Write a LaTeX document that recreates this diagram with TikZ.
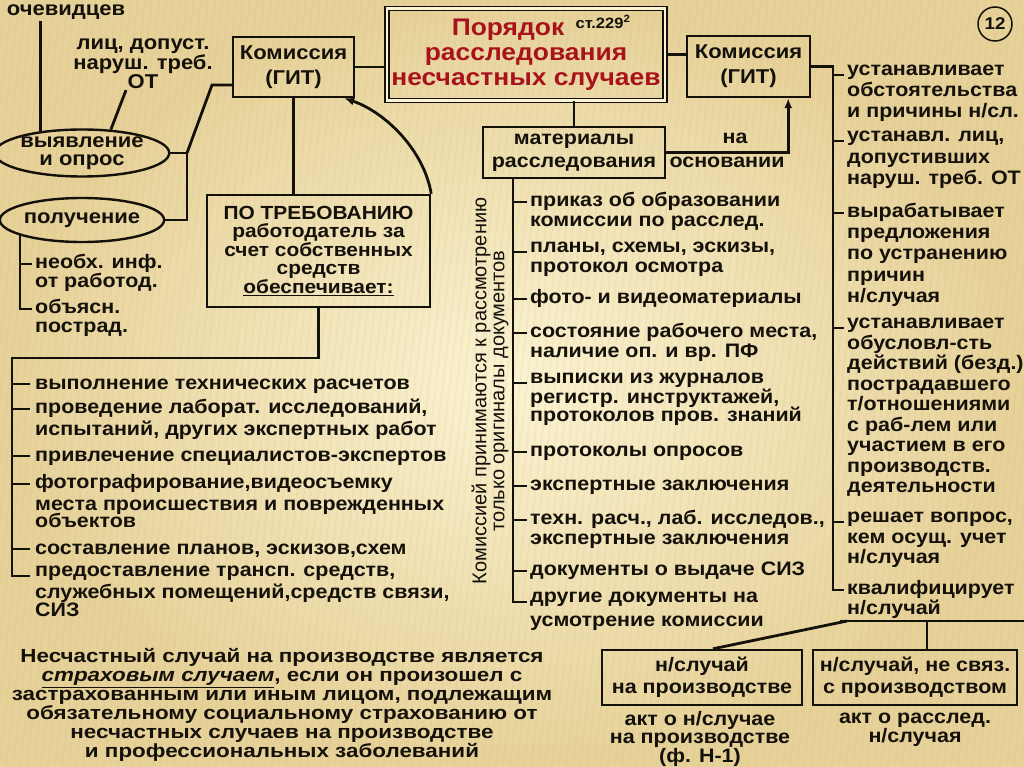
\documentclass[tikz,border=0pt]{standalone}
\usepackage{fontspec}
\setmainfont{Liberation Sans}[FakeStretch=1.1]
\newfontfamily\rotfont{Liberation Sans}
\newfontfamily\widefont{Liberation Sans}[FakeStretch=1.18]
\usetikzlibrary{arrows.meta,shapes.geometric,calc}
\definecolor{bgin}{RGB}{251,243,210}
\definecolor{bgout}{RGB}{230,209,152}
\definecolor{stripe}{RGB}{200,175,115}
\definecolor{ttlred}{RGB}{168,18,28}
\definecolor{ink}{RGB}{20,16,10}
\newcommand{\fs}[2]{\fontsize{#1}{#2}\selectfont\bfseries}
\begin{document}
\begin{tikzpicture}[x=1pt,y=-1pt,
  ln/.style={draw=ink, line width=2.8pt},
  box/.style={draw=ink, line width=2.4pt, inner sep=0pt, align=center, text=ink},
  oval/.style={draw=ink, line width=2.4pt, ellipse, inner sep=0pt, align=center, text=ink},
  itm/.style={anchor=north west, inner sep=0pt, align=left, text=ink, execute at begin node=\strut},
  lbl/.style={inner sep=1pt, align=center, text=ink},
  tip/.style={-{Latex[length=10pt,width=8pt]}}
]
\useasboundingbox (0,0) rectangle (1024,767);
\shade[inner color=bgin, outer color=bgout] (0,0) rectangle (1024,767);
\begin{scope}
\clip (0,0) rectangle (1024,767);
\foreach \i in {-120,-113,...,1040}
  \draw[stripe, opacity=0.10, line width=1.6pt] (\i,767) -- (\i+90,0);
\end{scope}

% ---------- top left ----------
\node[lbl, font=\fs{20}{22}] (ochev) at (66,12) {очевидцев};
\node[lbl, font=\fs{20}{16.5}] (lic) at (143,64) {лиц, допуст.\\наруш. треб.\\ОТ};
\node[oval, minimum width=164pt, minimum height=47pt, font=\fs{20}{18}] (vyyav) at (82,153) {выявление\\и опрос};
\node[oval, minimum width=164pt, minimum height=44pt, font=\fs{20}{20}] (poluch) at (82,220) {получение};
\node[box, minimum width=121pt, minimum height=60pt, font=\fs{20}{25}] (kom1) at (293.5,67) {Комиссия\\(ГИТ)};
\node[itm, font=\fs{19.5}{19}] (n1) at (35,254) {необх. инф.\\от работод.};
\node[itm, font=\fs{19.5}{19}] (n2) at (35,299) {объясн.\\пострад.};

\draw[ln] (vyyav.152) -- (vyyav.152 |- ochev.south);
\draw[ln] (vyyav.39) -- ([xshift=-17pt]lic.south);
\coordinate (j1) at (187,153);
\coordinate (j3) at (212,85);
\draw[ln] (vyyav.east) -- (j1) -- (j1 |- poluch.east) -- (poluch.east);
\draw[ln] (j1) -- (j3) -- (j3 -| kom1.west);
\draw[ln] (poluch.194) |- ([xshift=-3pt,yshift=-10pt]n2.north west);
\draw[ln] ([yshift=-10pt]n1.north west -| poluch.194) -- ([xshift=-3pt,yshift=-10pt]n1.north west);

% ---------- main box ----------
\node[draw=ink, double=bgin, double distance=2.8pt, line width=1.3pt, inner sep=0pt,
      minimum width=278pt, minimum height=92pt, align=center, text=ttlred,
      font=\fs{24}{25}] (main) at (526,54.5) {Порядок\hspace*{36pt}\\расследования\\несчастных случаев};
\node[lbl, font=\fs{15}{16}] (st) at (603,22) {ст.229\textsuperscript{2}};
\draw[ln] (kom1.east) -- (kom1.east -| main.west);

% ---------- PO box & left list ----------
\node[box, minimum width=223pt, minimum height=112pt, font=\fs{19}{17.7}] (po) at (318.5,251)
  {ПО ТРЕБОВАНИЮ\\работодатель за\\счет собственных\\средств\\\underline{обеспечивает:}};
\draw[ln] (kom1.south |- po.north) -- (kom1.south |- kom1.south);
\draw[ln, tip] (po.north east) .. controls (424,150) and (385,112) .. ([xshift=-11pt]kom1.south east);

\node[itm, font=\fs{19.5}{22}] (L1) at (35,374) {выполнение технических расчетов};
\node[itm, font=\fs{19.5}{22}] (L2) at (35,399) {проведение лаборат. исследований,\\испытаний, других экспертных работ};
\node[itm, font=\fs{19.5}{22}] (L3) at (35,446) {привлечение специалистов-экспертов};
\node[itm, font=\fs{19.5}{22}] (L4) at (35,474) {фотографирование,видеосъемку\\места происшествия и поврежденных\\[-4.5pt]объектов};
\node[itm, font=\fs{19.5}{22}] (L5) at (35,539) {составление планов, эскизов,схем};
\node[itm, font=\fs{19.5}{22}] (L6) at (35,566) {предоставление трансп. средств,\\служебных помещений,средств связи,\\[-4pt]СИЗ};
\coordinate (lt) at (12,358);
\draw[ln] (po.south) |- (lt) |- ([xshift=-5pt,yshift=-10pt]L6.north west);
\foreach \n in {L1,L2,L3,L4,L5}
  \draw[ln] ([yshift=-10pt]\n.north west -| lt) -- ([xshift=-5pt,yshift=-10pt]\n.north west);

% ---------- materials ----------
\node[box, minimum width=182pt, minimum height=51pt, font=\fs{19.5}{23}] (mat) at (574,152.5) {материалы\\расследования};
\node[box, minimum width=123pt, minimum height=61pt, font=\fs{20}{25}] (kom2) at (748.5,66.5) {Комиссия\\(ГИТ)};
\draw[ln] (mat.north) -- (mat.north |- main.south);
\draw[ln] (main.east) -- (main.east -| kom2.west);
\draw[ln, tip] (mat.east) -| ([xshift=-23pt]kom2.south east);
\node[lbl, font=\fs{19.5}{20}] (na) at (735,138) {на};
\node[lbl, font=\fs{19.5}{20}] (osn) at (727,162) {основании};

\node[rotate=90, inner sep=0pt, align=center, text=ink, font=\rotfont\fontsize{20}{18}\selectfont] (rot) at (490,391)
  {Комиссией принимаются к рассмотрению\\только оригиналы документов};

\node[itm, font=\fs{19.5}{20}] (M1) at (530,192) {приказ об образовании\\комиссии по расслед.};
\node[itm, font=\fs{19.5}{20}] (M2) at (530,242) {планы, схемы, эскизы,\\протокол осмотра};
\node[itm, font=\fs{19.5}{20}] (M3) at (530,289) {фото- и видеоматериалы};
\node[itm, font=\fs{19.5}{20}] (M4) at (530,323) {состояние рабочего места,\\наличие оп. и вр. ПФ};
\node[itm, font=\fs{19.5}{20}] (M5) at (530,373) {выписки из журналов\\регистр. инструктажей,\\[-2.5pt]протоколов пров. знаний};
\node[itm, font=\fs{19.5}{20}] (M6) at (530,442) {протоколы опросов};
\node[itm, font=\fs{19.5}{20}] (M7) at (530,476) {экспертные заключения};
\node[itm, font=\fs{19.5}{20}] (M8) at (530,510) {техн. расч., лаб. исследов.,\\экспертные заключения};
\node[itm, font=\fs{19.5}{20}] (M9) at (530,561) {документы о выдаче СИЗ};
\node[itm, font=\fs{19.5}{20}] (M10) at (530,592) {другие документы на\\[4pt]усмотрение комиссии};
\coordinate (mt) at ([xshift=-61pt]mat.south);
\draw[ln] (mt) |- ([xshift=-3pt,yshift=-10pt]M10.north west);
\foreach \n in {M1,M2,M3,M4,M5,M6,M7,M8,M9}
  \draw[ln] ([yshift=-10pt]\n.north west -| mt) -- ([xshift=-3pt,yshift=-10pt]\n.north west);

% ---------- right list ----------
\node[draw=ink, circle, line width=1.5pt, minimum size=34pt, inner sep=0pt, text=ink, font=\fs{17}{20}] (num) at (995,24) {12};
\node[itm, font=\fs{19.5}{20.7}] (R1) at (847,65) {устанавливает\\обстоятельства\\и причины н/сл.};
\node[itm, font=\fs{19.5}{21.5}] (R2) at (847,131) {устанавл. лиц,\\допустивших\\наруш. треб. ОТ};
\node[itm, font=\fs{19.5}{21.2}] (R3) at (847,203) {вырабатывает\\предложения\\по устранению\\причин\\н/случая};
\node[itm, font=\fs{19.5}{20.5}] (R4) at (847,318) {устанавливает\\обусловл-сть\\действий (безд.)\\пострадавшего\\т/отношениями\\с раб-лем или\\участием в его\\производств.\\деятельности};
\node[itm, font=\fs{19.5}{20.5}] (R5) at (847,512) {решает вопрос,\\кем осущ. учет\\н/случая};
\node[itm, font=\fs{19.5}{20}] (R6) at (847,580) {квалифицирует\\н/случай};
\coordinate (rt) at (833,66.5);
\draw[ln] (kom2.east) -- (rt) |- ([xshift=-3pt,yshift=-10pt]R6.north west);
\foreach \n in {R1,R2,R3,R4,R5}
  \draw[ln] ([yshift=-10pt]\n.north west -| rt) -- ([xshift=-3pt,yshift=-10pt]\n.north west);

% ---------- bottom right ----------
\node[box, minimum width=200pt, minimum height=55pt, font=\fs{19.5}{22}] (b1) at (702,677.5) {н/случай\\на производстве};
\node[box, minimum width=204pt, minimum height=55pt, font=\fs{19.5}{22}] (b2) at (915,677.5) {н/случай, не связ.\\с производством};
\coordinate (hl) at (840,621);
\coordinate (hr) at (1024,621);
\draw[ln] (hl) -- (hr);
\draw[ln] ([xshift=12pt]b2.north |- hl) -- ([xshift=12pt]b2.north);
\draw[ln] ([xshift=7pt]hl) -- ([xshift=11pt]b1.north);
\node[lbl, font=\fs{19.5}{17.5}] (a1) at (700,739) {акт о н/случае\\на производстве\\(ф. Н-1)};
\node[lbl, font=\fs{19.5}{17.5}] (a2) at (915,730) {акт о расслед.\\н/случая};

% ---------- bottom paragraph ----------
\node[inner sep=0pt, align=center, text=ink, font=\widefont\fs{19}{19}] (para) at (282,705)
{Несчастный случай на производстве является\\
\underline{\textit{страховым случаем}}, если он произошел с\\
застрахованным или иным лицом, подлежащим\\
обязательному социальному страхованию от\\
несчастных случаев на производстве\\
и профессиональных заболеваний};
\end{tikzpicture}
\end{document}
